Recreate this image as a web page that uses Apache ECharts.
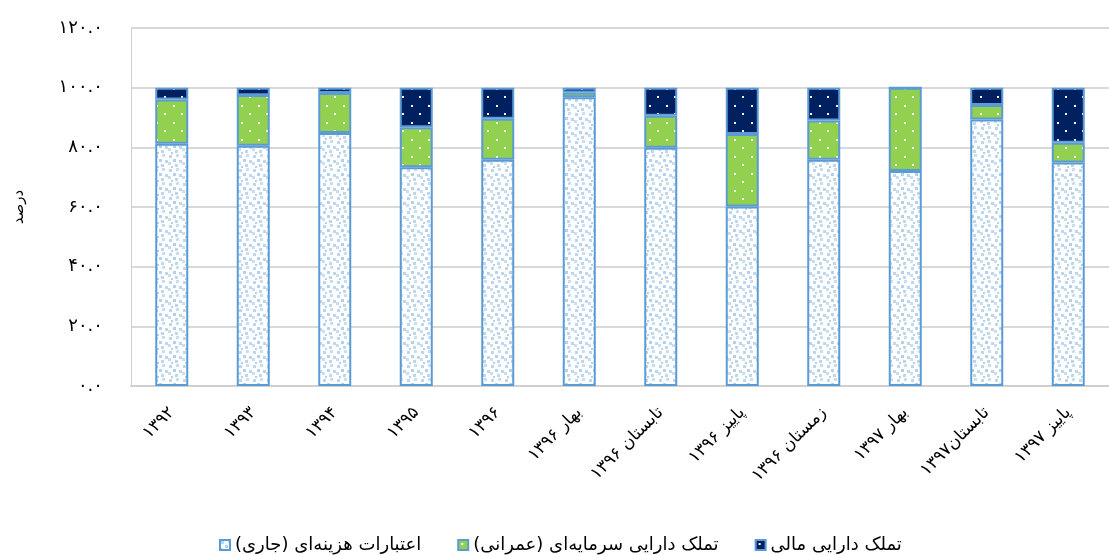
<!DOCTYPE html>
<html>
<head>
<meta charset="utf-8">
<script src="https://cdn.jsdelivr.net/npm/echarts@6/dist/echarts.min.js"></script>
<style>
  html, body { margin: 0; padding: 0; background: #ffffff; }
  #chart { width: 1109px; height: 555px; }
</style>
</head>
<body>
<div id="chart"></div>
<script>
// Budget composition by period (percent of total)
const categories = [
  '۱۳۹۲', '۱۳۹۳', '۱۳۹۴', '۱۳۹۵', '۱۳۹۶',
  'بهار ۱۳۹۶', 'تابستان ۱۳۹۶', 'پاییز ۱۳۹۶', 'زمستان ۱۳۹۶',
  'بهار ۱۳۹۷', 'تابستان۱۳۹۷', 'پاییز ۱۳۹۷'
];
const currentExpenses = [81.2, 80.5, 84.8, 73.3, 75.8, 96.8, 79.9, 60.2, 75.8, 72.1, 89.3, 74.9];
const capitalAssets   = [14.8, 17.0, 13.4, 13.4, 13.8, 1.6, 10.7, 24.3, 13.2, 27.9, 4.9, 6.6];
const financialAssets = [4.0, 2.5, 1.8, 13.3, 10.4, 1.6, 9.4, 15.5, 11.0, 0.0, 5.8, 18.5];
const seriesNames = [
  'اعتبارات هزینه‌ای (جاری)',
  'تملک دارایی سرمایه‌ای (عمرانی)',
  'تملک دارایی مالی'
];
const yAxisName = 'درصد';
const yTickMin = 0, yTickMax = 120, yTickStep = 20;

const FONT = 'DejaVu Sans';
const faDigits = '۰۱۲۳۴۵۶۷۸۹';
function toPersian(str) {
  return String(str).replace(/[0-9]/g, d => faDigits[+d]);
}

// Fill patterns for the stacked segments
function confettiPattern() {
  const c = document.createElement('canvas');
  c.width = 14; c.height = 14;
  const g = c.getContext('2d');
  g.fillStyle = '#ffffff';
  g.fillRect(0, 0, 14, 14);
  const squares = [
    [1, 1, 3, '#bdd7ee'], [8, 0, 3, '#c8def3'], [5, 5, 3, '#b3d0ee'],
    [11, 6, 3, '#bdd7ee'], [0, 8, 3, '#c8def3'], [7, 10, 3, '#bdd7ee'],
    [3, 12, 2, '#b3d0ee']
  ];
  squares.forEach(([x, y, s, col]) => { g.fillStyle = col; g.fillRect(x, y, s, s); });
  return c;
}
function dotPattern(bg) {
  const c = document.createElement('canvas');
  c.width = 17; c.height = 17;
  const g = c.getContext('2d');
  g.fillStyle = bg;
  g.fillRect(0, 0, 17, 17);
  g.fillStyle = '#ffffff';
  g.fillRect(3, 3, 2, 2);
  g.fillRect(11, 11, 2, 2);
  return c;
}

const fills = [
  { image: confettiPattern(), repeat: 'repeat' },
  { image: dotPattern('#92d050'), repeat: 'repeat' },
  { image: dotPattern('#002060'), repeat: 'repeat' }
];
const seriesData = [currentExpenses, capitalAssets, financialAssets];

const chart = echarts.init(document.getElementById('chart'), null, { renderer: 'canvas' });
chart.setOption({
  animation: false,
  backgroundColor: '#ffffff',
  textStyle: { fontFamily: FONT },
  grid: { left: 131, top: 28, width: 983, height: 358, containLabel: false },
  legend: {
    top: 531,
    left: 214,
    itemWidth: 10,
    itemHeight: 10,
    itemGap: 36,
    icon: 'rect',
    data: seriesNames,
    textStyle: { fontFamily: FONT, fontSize: 18, color: '#000000' }
  },
  xAxis: {
    type: 'category',
    data: categories,
    axisLine: { show: true, lineStyle: { color: '#d0d0d0', width: 2 } },
    axisTick: { show: false },
    axisLabel: {
      rotate: 45,
      interval: 0,
      margin: 24,
      fontFamily: FONT,
      fontSize: 17,
      color: '#000000'
    }
  },
  yAxis: {
    type: 'value',
    min: yTickMin,
    max: yTickMax,
    interval: yTickStep,
    name: yAxisName,
    nameLocation: 'middle',
    nameRotate: 90,
    nameGap: 104,
    nameTextStyle: { fontFamily: FONT, fontSize: 15, color: '#000000' },
    axisLine: { show: true, lineStyle: { color: '#d0d0d0', width: 1 } },
    axisTick: { show: false },
    splitLine: { show: true, lineStyle: { color: '#d9d9d9', width: 2 } },
    axisLabel: {
      margin: 28,
      fontFamily: FONT,
      fontSize: 18,
      color: '#000000',
      formatter: v => toPersian(v.toFixed(1))
    }
  },
  series: seriesNames.map((name, i) => ({
    name: name,
    type: 'bar',
    stack: 'total',
    barWidth: 33,
    data: seriesData[i],
    itemStyle: {
      color: fills[i],
      borderColor: '#5b9bd5',
      borderWidth: 2
    }
  }))
});
</script>
</body>
</html>
